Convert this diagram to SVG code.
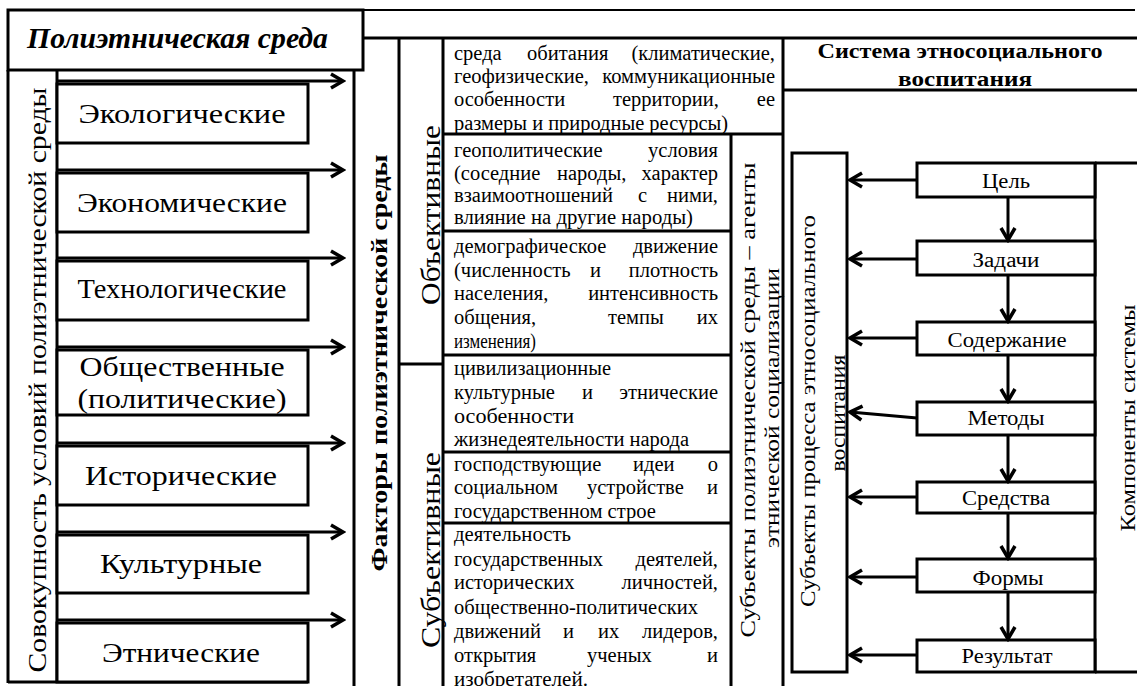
<svg xmlns="http://www.w3.org/2000/svg" width="1137" height="686" viewBox="0 0 1137 686" font-family="Liberation Serif, DejaVu Serif, serif">
<style>
.ln{stroke:#000;stroke-width:3;fill:none}
.bx{fill:#fff;stroke:#000;stroke-width:3}
.ar{stroke:#000;stroke-width:3;fill:none;marker-end:url(#ah)}
.s{font-family:'Liberation Serif','DejaVu Serif',serif;fill:#000}
.big{font-size:28px}
.b{font-size:20.5px}
.lbl{font-size:20px}
.e{text-anchor:end}
.m{text-anchor:middle}
</style>
<defs>
<marker id="ah" markerUnits="userSpaceOnUse" viewBox="-15 -10 18 20" refX="0" refY="0" markerWidth="18" markerHeight="20" orient="auto">
<path d="M-12,-7 L0,0 L-12,7" stroke="#000" stroke-width="3.5" fill="none"/>
</marker>
</defs>
<rect width="1137" height="686" fill="#fff"/>

<g id="frame">
<line class="ln" x1="8" y1="10" x2="1135" y2="10" style="stroke-width:2"/>
<line class="ln" x1="363" y1="38" x2="1137" y2="38"/>
<line class="ln" x1="8" y1="70" x2="8" y2="683"/>
<line class="ln" x1="57" y1="70" x2="57" y2="683"/>
<line class="ln" x1="8" y1="682" x2="308" y2="682"/>
<line class="ln" x1="354" y1="70" x2="354" y2="686"/>
<line class="ln" x1="399" y1="38" x2="399" y2="686"/>
<line class="ln" x1="443" y1="38" x2="443" y2="686"/>
<line class="ln" x1="783" y1="38" x2="783" y2="686"/>
<line class="ln" x1="731" y1="134" x2="731" y2="686"/>
<line class="ln" x1="399" y1="364" x2="443" y2="364"/>
<line class="ln" x1="783" y1="90" x2="1137" y2="90"/>
</g>

<g id="title">
<rect class="bx" x="8" y="10" width="355" height="60"/>
<text class="s" x="27" y="48" font-size="29" font-weight="bold" font-style="italic" textLength="301" lengthAdjust="spacingAndGlyphs">Полиэтническая среда</text>
</g>

<g id="conditions">
<text class="s" transform="translate(46,380) rotate(-90)" text-anchor="middle" font-size="26" textLength="585" lengthAdjust="spacingAndGlyphs">Совокупность условий полиэтнической среды</text>
</g>

<g id="eco"><rect class="bx" x="57" y="84" width="251" height="59"/><text class="s big m" x="182" y="123" textLength="207" lengthAdjust="spacingAndGlyphs">Экологические</text></g>
<g id="econ"><rect class="bx" x="57" y="173" width="251" height="59"/><text class="s big m" x="182" y="212" textLength="210" lengthAdjust="spacingAndGlyphs">Экономические</text></g>
<g id="tech"><rect class="bx" x="57" y="261" width="251" height="59"/><text class="s big m" x="182" y="298" textLength="209" lengthAdjust="spacingAndGlyphs">Технологические</text></g>
<g id="social"><rect class="bx" x="57" y="350" width="251" height="65"/><text class="s big m" x="182" y="376" textLength="205" lengthAdjust="spacingAndGlyphs">Общественные</text><text class="s big m" x="182" y="408" textLength="209" lengthAdjust="spacingAndGlyphs">(политические)</text></g>
<g id="hist"><rect class="bx" x="57" y="446" width="251" height="59"/><text class="s big m" x="181" y="485" textLength="192" lengthAdjust="spacingAndGlyphs">Исторические</text></g>
<g id="cult"><rect class="bx" x="57" y="535" width="251" height="58"/><text class="s big m" x="181" y="573" textLength="162" lengthAdjust="spacingAndGlyphs">Культурные</text></g>
<g id="ethn"><rect class="bx" x="57" y="623" width="251" height="59"/><text class="s big m" x="181" y="662" textLength="158" lengthAdjust="spacingAndGlyphs">Этнические</text></g>

<g id="factors">
<text class="s" transform="translate(387,363) rotate(-90)" text-anchor="middle" font-size="24" font-weight="bold" textLength="417" lengthAdjust="spacingAndGlyphs">Факторы полиэтнической среды</text>
</g>
<g id="objective">
<text class="s" transform="translate(440,215) rotate(-90)" text-anchor="middle" font-size="27" textLength="180" lengthAdjust="spacingAndGlyphs">Объективные</text>
</g>
<g id="subjective">
<text class="s" transform="translate(440,550) rotate(-90)" text-anchor="middle" font-size="27" textLength="196" lengthAdjust="spacingAndGlyphs">Субъективные</text>
</g>

<g id="habitat">
<line class="ln" x1="443" y1="134" x2="783" y2="134"/>
<text class="s b" y="60"><tspan x="454">среда</tspan><tspan x="527">обитания</tspan><tspan x="775" class="e">(климатические,</tspan></text>
<text class="s b" y="83"><tspan x="454">геофизические,</tspan><tspan x="775" class="e">коммуникационные</tspan></text>
<text class="s b" y="106"><tspan x="454">особенности</tspan><tspan x="613">территории,</tspan><tspan x="775" class="e">ее</tspan></text>
<text class="s b" x="454" y="130" textLength="274" lengthAdjust="spacingAndGlyphs">размеры и природные ресурсы)</text>
</g>
<g id="geopolitics">
<line class="ln" x1="443" y1="231" x2="731" y2="231"/>
<text class="s b" y="157"><tspan x="454">геополитические</tspan><tspan x="718" class="e">условия</tspan></text>
<text class="s b" y="180"><tspan x="454">(соседние</tspan><tspan x="557">народы,</tspan><tspan x="718" class="e">характер</tspan></text>
<text class="s b" y="202"><tspan x="454">взаимоотношений</tspan><tspan x="638">с</tspan><tspan x="718" class="e">ними,</tspan></text>
<text class="s b" x="454" y="224" textLength="239" lengthAdjust="spacingAndGlyphs">влияние на другие народы)</text>
</g>
<g id="demography">
<line class="ln" x1="443" y1="355" x2="731" y2="355"/>
<text class="s b" y="253"><tspan x="454">демографическое</tspan><tspan x="718" class="e">движение</tspan></text>
<text class="s b" y="277"><tspan x="454">(численность</tspan><tspan x="590">и</tspan><tspan x="718" class="e">плотность</tspan></text>
<text class="s b" y="300"><tspan x="454">населения,</tspan><tspan x="718" class="e">интенсивность</tspan></text>
<text class="s b" y="324"><tspan x="454">общения,</tspan><tspan x="608">темпы</tspan><tspan x="718" class="e">их</tspan></text>
<text class="s b" x="454" y="348" textLength="82" lengthAdjust="spacingAndGlyphs">изменения)</text>
</g>
<g id="civilization">
<line class="ln" x1="443" y1="452" x2="731" y2="452"/>
<text class="s b" x="454" y="375" textLength="157" lengthAdjust="spacingAndGlyphs">цивилизационные</text>
<text class="s b" y="399"><tspan x="454">культурные</tspan><tspan x="582">и</tspan><tspan x="718" class="e">этнические</tspan></text>
<text class="s b" x="454" y="423" textLength="120" lengthAdjust="spacingAndGlyphs">особенности</text>
<text class="s b" x="454" y="446" textLength="235" lengthAdjust="spacingAndGlyphs">жизнедеятельности народа</text>
</g>
<g id="ideas">
<line class="ln" x1="443" y1="523" x2="731" y2="523"/>
<text class="s b" y="471"><tspan x="454">господствующие</tspan><tspan x="633">идеи</tspan><tspan x="718" class="e">о</tspan></text>
<text class="s b" y="494"><tspan x="454">социальном</tspan><tspan x="587">устройстве</tspan><tspan x="718" class="e">и</tspan></text>
<text class="s b" x="454" y="518" textLength="202" lengthAdjust="spacingAndGlyphs">государственном строе</text>
</g>
<g id="activity">
<text class="s b" x="454" y="541" textLength="117" lengthAdjust="spacingAndGlyphs">деятельность</text>
<text class="s b" y="566"><tspan x="454">государственных</tspan><tspan x="718" class="e">деятелей,</tspan></text>
<text class="s b" y="589"><tspan x="454">исторических</tspan><tspan x="718" class="e">личностей,</tspan></text>
<text class="s b" x="454" y="614" textLength="244" lengthAdjust="spacingAndGlyphs">общественно-политических</text>
<text class="s b" y="638"><tspan x="454">движений</tspan><tspan x="563">и</tspan><tspan x="598">их</tspan><tspan x="718" class="e">лидеров,</tspan></text>
<text class="s b" y="662"><tspan x="454">открытия</tspan><tspan x="587">ученых</tspan><tspan x="718" class="e">и</tspan></text>
<text class="s b" x="454" y="686" textLength="134" lengthAdjust="spacingAndGlyphs">изобретателей.</text>
</g>

<g id="agents">
<text class="s" transform="translate(755,400) rotate(-90)" text-anchor="middle" font-size="21" textLength="475" lengthAdjust="spacingAndGlyphs">Субъекты полиэтнической среды – агенты</text>
<text class="s" transform="translate(779,408) rotate(-90)" text-anchor="middle" font-size="21" textLength="280" lengthAdjust="spacingAndGlyphs">этнической социализации</text>
</g>

<g id="system-header">
<text class="s m" x="960" y="58" font-size="20" font-weight="bold" textLength="285" lengthAdjust="spacingAndGlyphs">Система этносоциального</text>
<text class="s m" x="965" y="86" font-size="20" font-weight="bold" textLength="134" lengthAdjust="spacingAndGlyphs">воспитания</text>
</g>

<g id="process-subjects">
<rect class="bx" x="792" y="153" width="55" height="519"/>
<text class="s" transform="translate(815,411) rotate(-90)" text-anchor="middle" font-size="20" textLength="392" lengthAdjust="spacingAndGlyphs">Субъекты процесса этносоциального</text>
<text class="s" transform="translate(845,413) rotate(-90)" text-anchor="middle" font-size="20" textLength="117" lengthAdjust="spacingAndGlyphs">воспитания</text>
</g>

<g id="components">
<line class="ln" x1="1095" y1="163" x2="1137" y2="163"/>
<line class="ln" x1="1095" y1="672" x2="1137" y2="672"/>
<line class="ln" x1="1095" y1="163" x2="1095" y2="672"/>
<text class="s" transform="translate(1135,418) rotate(-90)" text-anchor="middle" font-size="20" textLength="227" lengthAdjust="spacingAndGlyphs">Компоненты системы</text>
</g>

<g id="goal"><rect class="bx" x="917" y="163" width="178" height="34"/><text class="s lbl m" x="1006" y="188" textLength="48" lengthAdjust="spacingAndGlyphs">Цель</text></g>
<g id="tasks"><rect class="bx" x="917" y="241" width="178" height="34"/><text class="s lbl m" x="1006" y="267" textLength="67" lengthAdjust="spacingAndGlyphs">Задачи</text></g>
<g id="content"><rect class="bx" x="917" y="322" width="178" height="33"/><text class="s lbl m" x="1007" y="347" textLength="119" lengthAdjust="spacingAndGlyphs">Содержание</text></g>
<g id="methods"><rect class="bx" x="917" y="402" width="178" height="33"/><text class="s lbl m" x="1006" y="425" textLength="77" lengthAdjust="spacingAndGlyphs">Методы</text></g>
<g id="means"><rect class="bx" x="917" y="482" width="178" height="31"/><text class="s lbl m" x="1006" y="505" textLength="88" lengthAdjust="spacingAndGlyphs">Средства</text></g>
<g id="forms"><rect class="bx" x="917" y="559" width="178" height="33"/><text class="s lbl m" x="1008" y="585" textLength="71" lengthAdjust="spacingAndGlyphs">Формы</text></g>
<g id="result"><rect class="bx" x="917" y="640" width="178" height="32"/><text class="s lbl m" x="1007" y="663" textLength="91" lengthAdjust="spacingAndGlyphs">Результат</text></g>

<g id="connectors">
<line class="ar" x1="57" y1="81" x2="343" y2="81"/>
<line class="ar" x1="57" y1="170" x2="343" y2="170"/>
<line class="ar" x1="57" y1="258" x2="343" y2="258"/>
<line class="ar" x1="57" y1="347" x2="343" y2="347"/>
<line class="ar" x1="57" y1="443" x2="343" y2="443"/>
<line class="ar" x1="57" y1="532" x2="343" y2="532"/>
<line class="ar" x1="57" y1="620" x2="343" y2="620"/>
<line class="ar" x1="917" y1="180" x2="850" y2="180"/>
<line class="ar" x1="917" y1="259" x2="850" y2="259"/>
<line class="ar" x1="917" y1="338" x2="850" y2="338"/>
<line class="ar" x1="917" y1="418" x2="850" y2="412"/>
<line class="ar" x1="917" y1="497" x2="850" y2="497"/>
<line class="ar" x1="917" y1="577" x2="850" y2="577"/>
<line class="ar" x1="917" y1="655" x2="850" y2="655"/>
<line class="ar" x1="1008" y1="197" x2="1008" y2="240"/>
<line class="ar" x1="1008" y1="275" x2="1008" y2="321"/>
<line class="ar" x1="1008" y1="355" x2="1008" y2="401"/>
<line class="ar" x1="1008" y1="435" x2="1008" y2="481"/>
<line class="ar" x1="1008" y1="513" x2="1008" y2="558"/>
<line class="ar" x1="1008" y1="592" x2="1008" y2="639"/>
</g>
</svg>
